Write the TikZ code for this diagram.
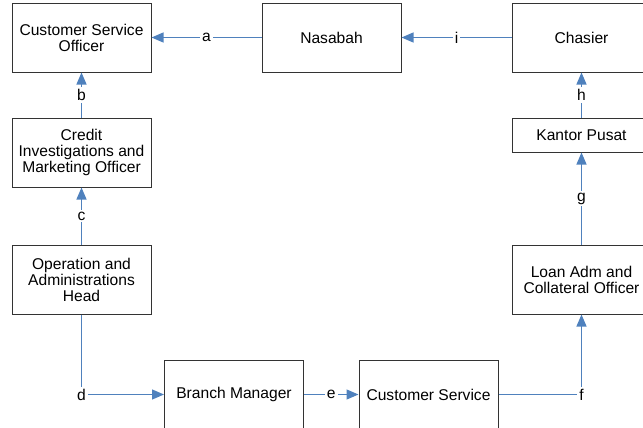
\documentclass[tikz,border=0pt]{standalone}
\usepackage{fontspec}
\setmainfont{Liberation Sans}
\usetikzlibrary{arrows.meta}
\definecolor{alur}{RGB}{79,129,189}

\begin{document}
\begin{tikzpicture}[x=0.5pt, y=-0.5pt,
    every node/.style={font=\fontsize{7.8}{8}\selectfont, align=center},
    kotak/.style={draw=black!80, line width=0.5pt, minimum width=69.5pt, minimum height=34.5pt, inner sep=1pt},
    panah/.style={draw=alur, line width=0.6pt, -{Triangle[length=6pt,width=5pt]}},
    huruf/.style={fill=white, inner sep=1pt}]
    \useasboundingbox (0,0) rectangle (643,428);

    % Baris atas
    \node[kotak] (cso) at (81.5,37.5) {Customer Service\\Officer};
    \node[kotak] (nasabah) at (331.5,37.5) {Nasabah};
    \node[kotak] (chasier) at (581.5,37.5) {Chasier};

    % Kolom kiri
    \node[kotak] (credit) at (81.5,152.5) {Credit\\Investigations and\\Marketing Officer};
    \node[kotak] (ophead) at (81.5,279.5) {Operation and\\Administrations\\Head};

    % Kolom kanan
    \node[kotak, minimum height=17pt] (kantor) at (581.5,135) {Kantor Pusat};
    \node[kotak] (loan) at (581.5,279.5) {Loan Adm and\\Collateral Officer};

    % Baris bawah
    \node[kotak] (bm) at (234,394.5) {Branch Manager};
    \node[kotak] (cs) at (428.5,394.5) {Customer Service};

    % Alur
    \draw[panah] (nasabah) -- node[huruf] {a} (cso);
    \draw[panah] (credit) -- node[huruf] {b} (cso);
    \draw[panah] (ophead) -- node[huruf] {c} (credit);
    \draw[panah] (ophead) |- node[huruf] {d} (bm);
    \draw[panah] (bm) -- node[huruf] {e} (cs);
    \draw[panah] (cs) -| node[huruf] {f} (loan);
    \draw[panah] (loan) -- node[huruf] {g} (kantor);
    \draw[panah] (kantor) -- node[huruf] {h} (chasier);
    \draw[panah] (chasier) -- node[huruf] {i} (nasabah);
\end{tikzpicture}
\end{document}
